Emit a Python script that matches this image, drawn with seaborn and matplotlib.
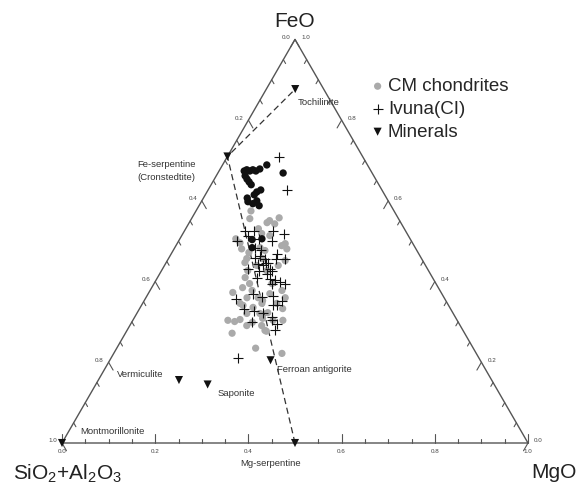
import numpy as np
import pandas as pd
import matplotlib
matplotlib.use('Agg')
import matplotlib.pyplot as plt
import seaborn as sns

# compositions as fractions; SiO2+Al2O3 = 1 - FeO - MgO
cm_feo = [0.575, 0.556, 0.551, 0.558, 0.543, 0.546, 0.506, 0.496, 0.519, 0.514,
          0.494, 0.481, 0.481, 0.472, 0.484, 0.489, 0.457, 0.457, 0.440, 0.440,
          0.452, 0.427, 0.427, 0.410, 0.385, 0.395, 0.373, 0.360, 0.346, 0.336,
          0.353, 0.370, 0.378, 0.346, 0.321, 0.321, 0.333, 0.323, 0.360, 0.304,
          0.301, 0.306, 0.291, 0.309, 0.279, 0.304, 0.272, 0.235, 0.222, 0.360,
          0.346, 0.531, 0.447, 0.378, 0.395, 0.477, 0.341, 0.304, 0.291, 0.277,
          0.299]
cm_mgo = [0.118, 0.125, 0.170, 0.187, 0.185, 0.167, 0.120, 0.134, 0.169, 0.189,
          0.232, 0.242, 0.145, 0.165, 0.183, 0.227, 0.168, 0.202, 0.198, 0.244,
          0.253, 0.185, 0.226, 0.188, 0.195, 0.205, 0.180, 0.217, 0.209, 0.242,
          0.254, 0.261, 0.283, 0.288, 0.264, 0.236, 0.307, 0.280, 0.299, 0.204,
          0.220, 0.229, 0.251, 0.276, 0.296, 0.322, 0.229, 0.298, 0.361, 0.241,
          0.256, 0.156, 0.169, 0.219, 0.253, 0.197, 0.218, 0.301, 0.283, 0.300,
          0.259]

cm_dark_feo = [0.674, 0.677, 0.674, 0.677, 0.674, 0.679, 0.689, 0.669, 0.662, 0.654,
               0.647, 0.640, 0.622, 0.627, 0.615, 0.607, 0.598, 0.593, 0.600, 0.588,
               0.504, 0.506, 0.484]
cm_dark_mgo = [0.054, 0.058, 0.066, 0.071, 0.079, 0.085, 0.095, 0.140, 0.062, 0.070,
               0.078, 0.086, 0.107, 0.113, 0.105, 0.094, 0.100, 0.113, 0.118, 0.129,
               0.156, 0.176, 0.166]

ivuna_feo = [0.709, 0.627, 0.526, 0.526, 0.526, 0.519, 0.501, 0.514, 0.506, 0.501,
             0.484, 0.479, 0.469, 0.457, 0.457, 0.459, 0.444, 0.440, 0.447, 0.432,
             0.430, 0.427, 0.425, 0.410, 0.420, 0.405, 0.398, 0.393, 0.395, 0.370,
             0.363, 0.365, 0.353, 0.358, 0.343, 0.333, 0.328, 0.321, 0.311, 0.306,
             0.296, 0.279, 0.210, 0.407, 0.341, 0.464, 0.457, 0.447, 0.301]
ivuna_mgo = [0.112, 0.169, 0.130, 0.149, 0.190, 0.216, 0.125, 0.142, 0.170, 0.200,
             0.172, 0.187, 0.226, 0.250, 0.230, 0.184, 0.199, 0.211, 0.214, 0.230,
             0.184, 0.209, 0.238, 0.213, 0.230, 0.254, 0.269, 0.283, 0.253, 0.225,
             0.248, 0.270, 0.295, 0.194, 0.281, 0.224, 0.248, 0.270, 0.295, 0.298,
             0.313, 0.317, 0.273, 0.242, 0.291, 0.193, 0.207, 0.218, 0.257]

mineral_names = ['Tochilinite', 'Fe-serpentine\n(Cronstedtite)', 'Ferroan antigorite',
                 'Vermiculite', 'Saponite', 'Montmorillonite', 'Mg-serpentine']
mineral_feo = [0.877, 0.710, 0.205, 0.156, 0.145, 0.0, 0.0]
mineral_mgo = [0.062, 0.0, 0.345, 0.173, 0.240, 0.0, 0.500]
# label offsets in points (dx, dy, ha)
mineral_label_pos = [(2, -10, 'left'), (-44, -10.5, 'center'), (5, -6.5, 'left'),
                     (-11, 4.3, 'right'), (7, -6.5, 'left'), (13, 8.6, 'left'),
                     (-17.6, -15, 'center')]

tick_labels = ['0.0', '0.2', '0.4', '0.6', '0.8', '1.0']

SQ = np.sqrt(3) / 2


def to_xy(feo, mgo):
    feo = np.asarray(feo, dtype=float)
    mgo = np.asarray(mgo, dtype=float)
    return mgo + feo / 2, feo * SQ


def frame(feo, mgo):
    x, y = to_xy(feo, mgo)
    return pd.DataFrame({'x': x, 'y': y})


sns.set_style('white')
plt.rcParams['font.family'] = ['Liberation Sans', 'DejaVu Sans']
plt.rcParams['mathtext.fontset'] = 'custom'
plt.rcParams['mathtext.rm'] = 'Liberation Sans'
plt.rcParams['mathtext.it'] = 'Liberation Sans:italic'

fig = plt.figure(figsize=(5.84, 4.84), dpi=100)
ax = fig.add_axes([0, 0, 1, 1])
PX = 466.0
ax.set_xlim(-62 / PX, (584 - 62) / PX)
ax.set_ylim(-41 / PX, (484 - 41) / PX)
ax.axis('off')

edge = '#555555'
# triangle frame
ax.plot([0, 1, 0.5, 0], [0, 0, SQ, 0], color=edge, lw=1.0, zorder=1)

# ticks every 0.05
for i in range(21):
    v = i * 0.05
    major = i % 4 == 0
    L = (9 if major else 4.5) / PX
    # bottom axis (MgO)
    bx, by = to_xy(0, v)
    ax.plot([bx, bx], [by, by + L], color=edge, lw=0.8)
    # left axis (SiO2+Al2O3), ticks toward down-right
    lx, ly = to_xy(1 - v, 0)
    ax.plot([lx, lx + 0.5 * L], [ly, ly - SQ * L], color=edge, lw=0.8)
    # right axis (FeO), ticks toward down-left
    rx, ry = to_xy(v, 1 - v)
    ax.plot([rx, rx - 0.5 * L], [ry, ry - SQ * L], color=edge, lw=0.8)

for i, lab in enumerate(tick_labels):
    v = i * 0.2
    kw = dict(textcoords='offset points', fontsize=4.5, color='#444444',
              ha='center', va='center')
    ax.annotate(lab, to_xy(0, v), xytext=(0, -6), **kw)
    ax.annotate(lab, to_xy(1 - v, 0), xytext=(-6.5, 1.5), **kw)
    ax.annotate(lab, to_xy(v, 1 - v), xytext=(7.5, 1.5), **kw)

# dashed serpentine / tochilinite join lines
i_to, i_fe, i_mg = 0, 1, 6
lx, ly = to_xy([mineral_feo[i_mg], mineral_feo[i_fe], mineral_feo[i_to]],
               [mineral_mgo[i_mg], mineral_mgo[i_fe], mineral_mgo[i_to]])
ax.plot(lx, ly, ls=(0, (5, 3)), color='#333333', lw=0.9, zorder=2)

sns.scatterplot(data=frame(cm_feo, cm_mgo), x='x', y='y', ax=ax, color='#aaaaaa',
                s=27, edgecolor='none', label='CM chondrites', zorder=3)
sns.scatterplot(data=frame(cm_dark_feo, cm_dark_mgo), x='x', y='y', ax=ax,
                color='#111111', s=28, edgecolor='none', label='_nolegend_', zorder=4)
sns.scatterplot(data=frame(ivuna_feo, ivuna_mgo), x='x', y='y', ax=ax, color='#111111',
                marker='+', s=60, linewidth=0.8, label='Ivuna(CI)', zorder=5)
sns.scatterplot(data=frame(mineral_feo, mineral_mgo), x='x', y='y', ax=ax,
                color='#111111', marker='v', s=34, edgecolor='none', label='Minerals',
                zorder=6)

mx, my = to_xy(mineral_feo, mineral_mgo)
for name, x, y, (dx, dy, ha) in zip(mineral_names, mx, my, mineral_label_pos):
    ax.annotate(name, (x, y), xytext=(dx, dy), textcoords='offset points',
                fontsize=6.8, color='#333333', ha=ha, va='center',
                multialignment='center', linespacing=1.5)

# corner labels
ax.annotate('FeO', to_xy(1, 0), xytext=(0, 13), textcoords='offset points',
            fontsize=15, ha='center', va='center', color='#222222')
ax.annotate('SiO$_2$+Al$_2$O$_3$', to_xy(0, 0), xytext=(4, -22),
            textcoords='offset points', fontsize=15, ha='center', va='center',
            color='#222222')
ax.annotate('MgO', to_xy(0, 1), xytext=(18.5, -21.5), textcoords='offset points',
            fontsize=15, ha='center', va='center', color='#222222')

ax.legend(loc='upper left', bbox_to_anchor=(372 / 584, 1 - 78 / 484),
          bbox_transform=fig.transFigure, frameon=False, fontsize=13.5,
          handlelength=0.6, handletextpad=0.25, labelspacing=0.3, borderpad=0,
          borderaxespad=0)

fig.savefig('out.png', dpi=100)
